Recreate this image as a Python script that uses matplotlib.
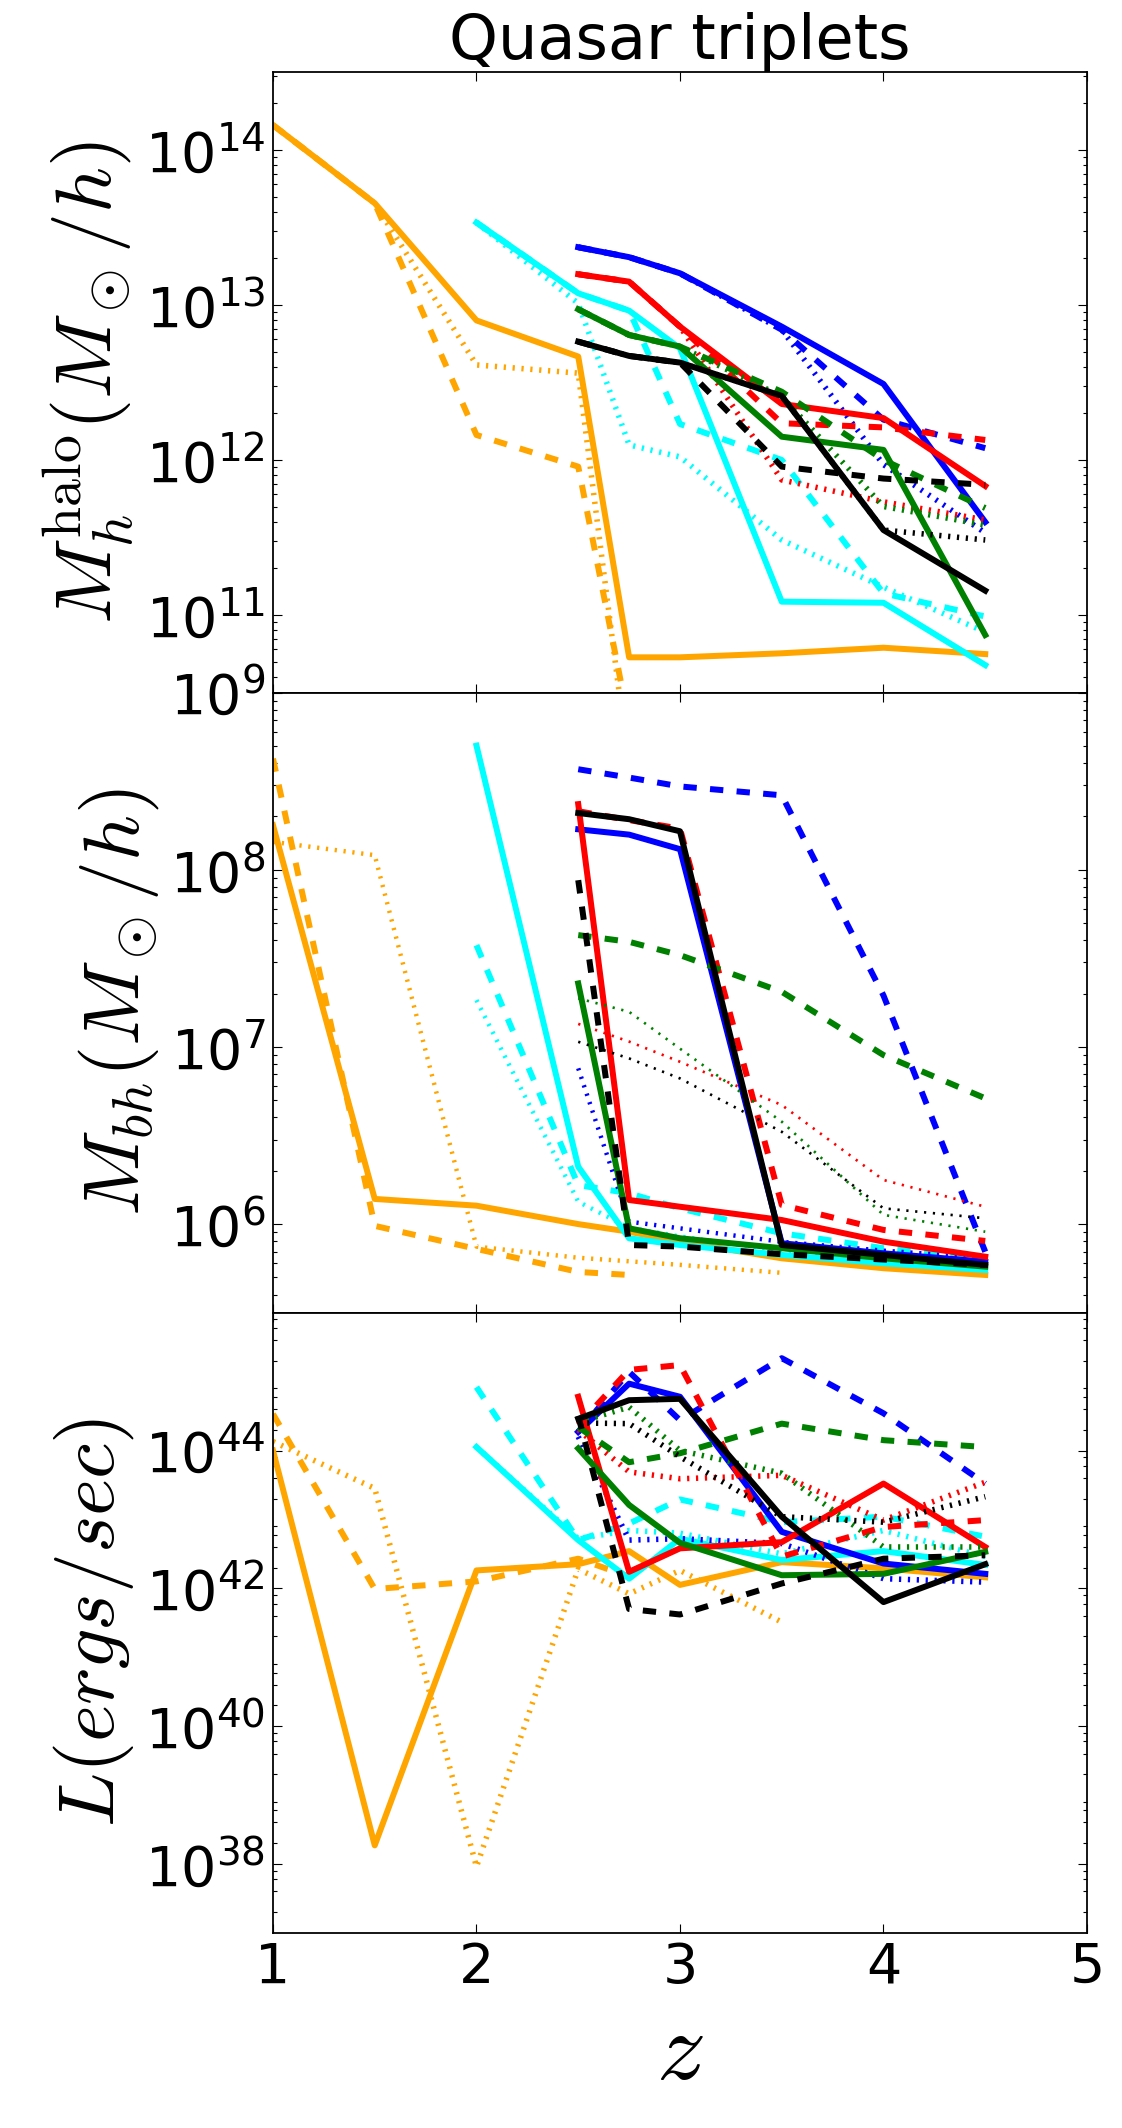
import numpy as np
import matplotlib
matplotlib.use('Agg')
import matplotlib.pyplot as plt
from matplotlib.ticker import LogLocator, NullLocator, FixedLocator

nan = np.nan

# redshift grids
z_orange = [1, 1.5, 2, 2.5, 2.75, 3, 3.5, 4, 4.5]
z_cyan = [2, 2.5, 2.75, 3, 3.5, 4, 4.5]
z_late = [2.5, 2.75, 3, 3.5, 4, 4.5]

# log10 halo mass, [solid, dashed, dotted] quasar of each triplet
halo_orange = [[14.16, 13.656, 12.90, 12.667, 10.727, 10.727, 10.753, 10.789, 10.748],
               [14.16, 13.656, 12.161, 11.957, 10.3, nan, nan, nan, nan],
               [14.16, 13.656, 12.613, 12.56, 10.0, 9.9, 9.9, nan, nan]]
halo_cyan = [[13.531, 13.075, 12.963, 12.72, 11.086, 11.079, 10.677],
             [13.531, 13.075, 12.963, 12.232, 12.0, 11.14, 10.99],
             [13.531, 13.01, 12.097, 12.02, 11.484, 11.18, 10.89]]
halo_blue = [[13.372, 13.308, 13.204, 12.86, 12.49, 11.60],
             [13.372, 13.308, 13.204, 12.84, 12.26, 12.076],
             [13.372, 13.308, 13.204, 12.84, 11.97, 11.53]]
halo_red = [[13.198, 13.15, 12.86, 12.361, 12.27, 11.832],
            [13.198, 13.15, 12.86, 12.237, 12.21, 12.129],
            [13.198, 13.15, 12.86, 11.871, 11.73, 11.613]]
halo_green = [[12.972, 12.806, 12.731, 12.15, 12.065, 10.871],
              [12.972, 12.806, 12.731, 12.44, 12.0, 11.69],
              [12.972, 12.806, 12.731, 12.41, 11.70, 11.58]]
halo_black = [[12.763, 12.671, 12.628, 12.413, 11.548, 11.157],
              [12.763, 12.671, 12.628, 11.957, 11.88, 11.84],
              [12.763, 12.671, 12.628, 12.413, 11.548, 11.484]]

# log10 black hole mass
bh_orange = [[8.251, 6.142, 6.104, 6.0, 5.957, 5.901, 5.807, 5.751, 5.713],
             [8.627, 5.99, 5.86, 5.73, 5.713, nan, nan, nan, nan],
             [8.157, 8.082, 5.873, 5.81, 5.79, 5.77, 5.725, nan, nan]]
bh_cyan = [[8.70, 6.324, 5.92, 5.882, 5.826, 5.779, 5.741],
           [7.574, 6.22, 6.174, 6.089, 5.948, 5.864, 5.807],
           [7.264, 6.126, 5.98, 5.93, 5.85, 5.80, 5.76]]
bh_blue = [[8.228, 8.198, 8.116, 5.892, 5.835, 5.788],
           [8.567, 8.52, 8.47, 8.42, 7.29, 5.844],
           [6.879, 6.014, 5.976, 5.90, 5.85, 5.81]]
bh_red = [[8.37, 6.136, 6.098, 6.023, 5.901, 5.816],
          [8.33, 8.28, 8.232, 6.108, 5.967, 5.905],
          [7.13, 7.03, 6.916, 6.672, 6.249, 6.098]]
bh_green = [[7.358, 5.976, 5.92, 5.864, 5.807, 5.76],
            [7.631, 7.593, 7.518, 7.311, 6.954, 6.71],
            [7.274, 7.198, 6.99, 6.578, 6.052, 5.957]]
bh_black = [[8.32, 8.285, 8.217, 5.882, 5.826, 5.77],
            [7.941, 5.882, 5.873, 5.83, 5.80, 5.77],
            [7.029, 6.935, 6.822, 6.521, 6.089, 6.033]]

# log10 luminosity
lum_orange = [[44.0, 38.27, 42.26, 42.35, 42.54, 42.05, 42.38, 42.29, 42.16],
              [44.53, 41.99, 42.10, 42.43, 42.17, nan, nan, nan, nan],
              [44.13, 43.45, 37.96, 42.28, 41.92, 42.26, 41.51, nan, nan]]
lum_cyan = [[44.05, 42.70, 42.14, 42.72, 42.41, 42.54, 42.34],
            [44.92, 42.70, 42.94, 43.29, 42.96, 43.04, 42.75],
            [44.05, 42.72, 42.84, 42.80, 42.50, 42.84, 42.46]]
lum_blue = [[44.27, 44.97, 44.78, 42.82, 42.36, 42.21],
            [44.27, 45.14, 44.44, 45.34, 44.54, 43.52],
            [44.2, 42.7, 42.72, 42.65, 42.14, 42.09]]
lum_red = [[44.78, 42.24, 42.58, 42.67, 43.52, 42.60],
           [44.37, 45.17, 45.24, 42.46, 42.89, 42.99],
           [44.3, 43.69, 43.59, 43.64, 42.99, 43.54]]
lum_green = [[44.03, 43.21, 42.66, 42.19, 42.21, 42.53],
             [44.34, 43.83, 43.96, 44.39, 44.15, 44.05],
             [44.41, 44.63, 44.0, 43.67, 42.60, 42.60]]
lum_black = [[44.46, 44.73, 44.75, 43.04, 41.80, 42.35],
             [44.5, 41.70, 41.62, 42.07, 42.43, 42.48],
             [44.4, 44.39, 43.91, 43.04, 42.96, 43.33]]

colors = ['orange', 'cyan', 'blue', 'red', 'green', 'black']
z_grids = [z_orange, z_cyan, z_late, z_late, z_late, z_late]
panels = [[halo_orange, halo_cyan, halo_blue, halo_red, halo_green, halo_black],
          [bh_orange, bh_cyan, bh_blue, bh_red, bh_green, bh_black],
          [lum_orange, lum_cyan, lum_blue, lum_red, lum_green, lum_black]]
ylabels = [r'$M_h^{\rm halo}(M_\odot/h)$', r'$M_{bh}(M_\odot/h)$', r'$L(ergs/sec)$']
ylims = [(10**10.5, 10**14.5), (10**5.5, 1e9), (1e37, 1e46)]
yticks = [[1e11, 1e12, 1e13, 1e14], [1e6, 1e7, 1e8, 1e9], [1e38, 1e40, 1e42, 1e44]]
minor_subs = [np.arange(2, 10), np.arange(2, 10), [2, 4, 6, 8]]
dot_widths = [[2.5, 2.5, 2.5, 2.5, 2.5, 2.5], [2, 2, 2, 1.2, 1.2, 1.2], [2.5, 2.5, 2.5, 2.5, 2.5, 2.5]]

plt.rcParams['mathtext.fontset'] = 'cm'
plt.rcParams['lines.scale_dashes'] = False
plt.rcParams['lines.dashed_pattern'] = [6, 6]
plt.rcParams['lines.dotted_pattern'] = [1, 3]

fig, axes = plt.subplots(3, 1, sharex=True, figsize=(1122 / 160, 2128 / 160), dpi=160)
fig.subplots_adjust(left=0.2433, right=0.9688, bottom=0.0917, top=0.966, hspace=0)

for i, ax in enumerate(axes):
    for j, c in enumerate(colors):
        z = z_grids[j]
        solid, dashed, dotted = panels[i][j]
        ax.plot(z, 10 ** np.array(solid, dtype=float), color=c, ls='-', lw=2.7)
        ax.plot(z, 10 ** np.array(dashed, dtype=float), color=c, ls='--', lw=2.7)
        ax.plot(z, 10 ** np.array(dotted, dtype=float), color=c, ls=':', lw=dot_widths[i][j])
    ax.set_yscale('log')
    ax.yaxis.set_major_locator(FixedLocator(yticks[i]))
    ax.yaxis.set_minor_locator(LogLocator(base=10, subs=minor_subs[i], numticks=50))
    ax.set_ylim(*ylims[i])
    ax.set_ylabel(ylabels[i], fontsize=36)
    ax.tick_params(which='both', direction='in', top=True, right=True, labelsize=25, width=0.5)
    ax.tick_params(which='major', length=4)
    ax.tick_params(which='minor', length=2)
    ax.xaxis.set_minor_locator(NullLocator())

axes[0].set_title('Quasar triplets', fontsize=28, pad=4)
axes[2].set_xlim(1, 5)
axes[2].set_xticks([1, 2, 3, 4, 5])
axes[2].set_xlabel(r'$z$', fontsize=44)

fig.savefig('out.png', dpi=160)
